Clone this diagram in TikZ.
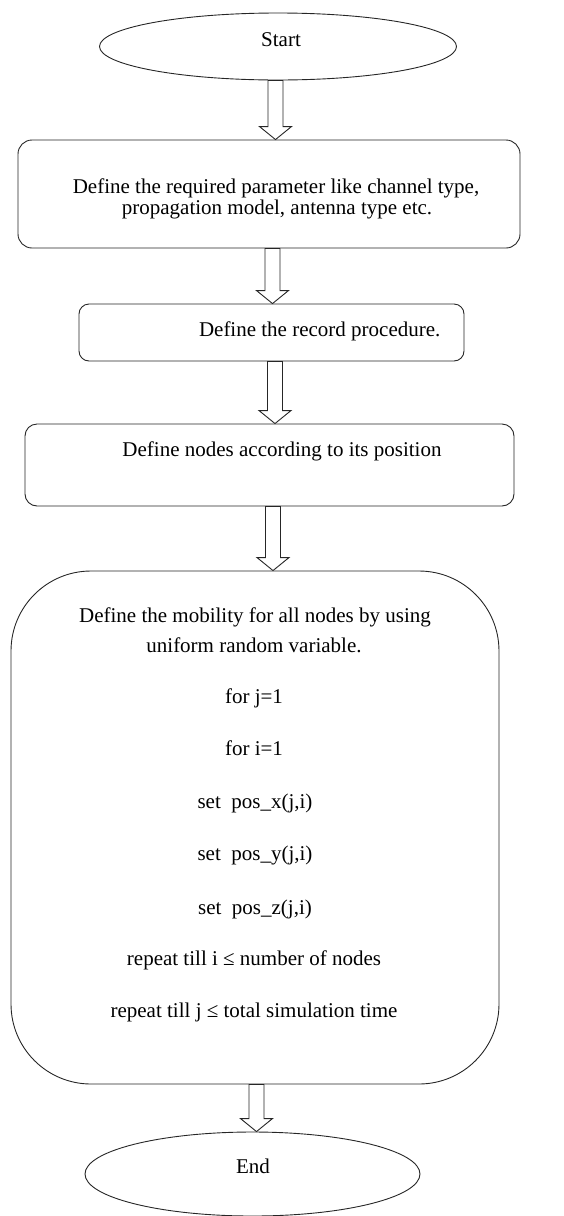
\documentclass[tikz,border=0pt]{standalone}
\usepackage{fontspec}
\setmainfont{Liberation Serif}
\usetikzlibrary{shapes.geometric,calc}
\newcommand{\blockarrow}[3]{%
  \draw[blockarr] let \p1=(#1.south), \p2=(#2.north) in
    ({#3pt-7.5pt},\y1) -- ({#3pt-7.5pt},{\y2+13pt}) -- ({#3pt-16pt},{\y2+13pt})
    -- (#3pt,\y2) -- ({#3pt+16pt},{\y2+13pt}) -- ({#3pt+7.5pt},{\y2+13pt})
    -- ({#3pt+7.5pt},\y1) -- cycle;}
\begin{document}
\begin{tikzpicture}[x=1pt,y=-1pt,
  line/.style={draw=black!85,line width=0.9pt},
  oval/.style={line,ellipse,inner sep=0pt},
  stepbox/.style={line,rectangle,inner sep=0pt},
  txt/.style={anchor=base,inner sep=0pt,font=\fontsize{21}{22}\selectfont},
  blockarr/.style={line,fill=white,line join=miter}]
\useasboundingbox (0,0) rectangle (563,1216);
% shapes
\node[oval,minimum width=357pt,minimum height=67pt] (start) at (278,46.5) {};
\node[stepbox,rounded corners=14pt,minimum width=502pt,minimum height=108pt] (b1) at (269,194) {};
\node[stepbox,rounded corners=10pt,minimum width=385pt,minimum height=57pt] (b2) at (271.5,332.5) {};
\node[stepbox,rounded corners=12pt,minimum width=489pt,minimum height=82pt] (b3) at (269.5,465) {};
\node[stepbox,rounded corners=80pt,minimum width=488pt,minimum height=513pt] (b4) at (255,827.5) {};
\node[oval,minimum width=335pt,minimum height=84pt] (end) at (252.5,1174) {};
% texts
\node[txt] (tstart) at (281,46.7) {Start};
\node[txt] (t1a) at (276,193) {Define the required parameter like channel type,};
\node[txt] (t1b) at (277,214) {propagation model, antenna type etc.};
\node[txt] (t2) at (319.7,336.7) {Define the record procedure.};
\node[txt] (t3) at (282,456.7) {Define nodes according to its position};
\node[txt] (t4a) at (255,622) {Define the mobility for all nodes by using};
\node[txt] (t4b) at (254,652) {uniform random variable.};
\node[txt] (t4c) at (254,703) {for j=1};
\node[txt] (t4d) at (254,755) {for i=1};
\node[txt] (t4e) at (255,808) {set~~pos\_x(j,i)};
\node[txt] (t4f) at (255,860) {set~~pos\_y(j,i)};
\node[txt] (t4g) at (255,914) {set~~pos\_z(j,i)};
\node[txt] (t4h) at (254,965) {repeat till i ≤ number of nodes};
\node[txt] (t4i) at (254,1017) {repeat till j ≤ total simulation time};
\node[txt] (tend) at (253,1173) {End};
% arrows
\blockarrow{start}{b1}{275.5}
\blockarrow{b1}{b2}{272.5}
\blockarrow{b2}{b3}{275}
\blockarrow{b3}{b4}{273}
\blockarrow{b4}{end}{256.5}
\end{tikzpicture}
\end{document}
